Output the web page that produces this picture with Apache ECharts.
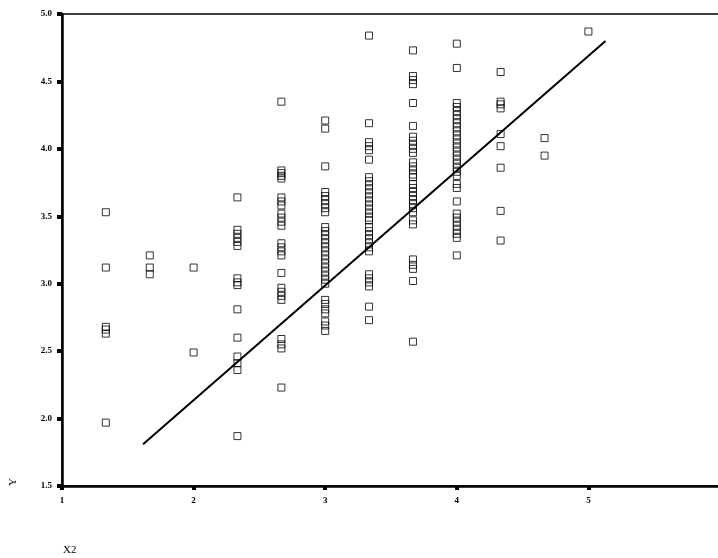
<!DOCTYPE html>
<html>
<head>
<meta charset="utf-8">
<script src="https://cdn.jsdelivr.net/npm/echarts@6/dist/echarts.min.js"></script>
<style>html,body{margin:0;padding:0;background:#fff;}#c{width:718px;height:558px;}</style>
</head>
<body>
<div id="c"></div>
<script>
// X2 values of the columns
var xCols = [1.333, 1.667, 2.0, 2.333, 2.667, 3.0, 3.333, 3.667, 4.0, 4.333, 4.667, 5.0];
// Y values per column
var c133 = [3.53, 3.12, 2.68, 2.66, 2.63, 1.97];
var c167 = [3.21, 3.12, 3.07];
var c200 = [3.12, 2.49];
var c233 = [3.64, 3.40, 3.37, 3.34, 3.31, 3.28, 3.04, 3.01, 2.99, 2.81, 2.60, 2.46, 2.41, 2.36, 1.87];
var c267 = [4.35, 3.84, 3.82, 3.80, 3.78, 3.64, 3.61, 3.58, 3.52, 3.49, 3.46, 3.43, 3.30, 3.27, 3.24, 3.21, 3.08, 2.97, 2.94, 2.91, 2.88, 2.59, 2.55, 2.52, 2.23];
var c300 = [4.21, 4.15, 3.87, 3.68, 3.65, 3.62, 3.59, 3.56, 3.53, 3.42, 3.39, 3.36, 3.33, 3.30, 3.27, 3.24, 3.21, 3.18, 3.15, 3.12, 3.09, 3.06, 3.03, 3.00, 2.88, 2.85, 2.81, 2.78, 2.72, 2.69, 2.65];
var c333 = [4.84, 4.19, 4.05, 4.02, 3.99, 3.92, 3.79, 3.76, 3.73, 3.70, 3.67, 3.64, 3.61, 3.58, 3.55, 3.52, 3.49, 3.47, 3.42, 3.39, 3.36, 3.33, 3.30, 3.27, 3.24, 3.07, 3.04, 3.01, 2.98, 2.83, 2.73];
var c367 = [4.73, 4.54, 4.51, 4.48, 4.34, 4.17, 4.09, 4.06, 4.03, 4.00, 3.97, 3.90, 3.87, 3.84, 3.81, 3.79, 3.74, 3.71, 3.68, 3.65, 3.62, 3.59, 3.56, 3.53, 3.47, 3.44, 3.18, 3.14, 3.11, 3.02, 2.57];
var c400 = [4.78, 4.60, 4.34, 4.31, 4.28, 4.25, 4.22, 4.19, 4.16, 4.13, 4.10, 4.07, 4.04, 4.01, 3.98, 3.95, 3.92, 3.89, 3.86, 3.83, 3.80, 3.74, 3.71, 3.61, 3.52, 3.49, 3.46, 3.43, 3.40, 3.37, 3.34, 3.21];
var c433 = [4.57, 4.35, 4.33, 4.30, 4.11, 4.02, 3.86, 3.54, 3.32];
var c467 = [4.08, 3.95];
var c500 = [4.87];
var yCols = [c133, c167, c200, c233, c267, c300, c333, c367, c400, c433, c467, c500];
// Fit line end points
var fitX = [1.616, 5.13];
var fitY = [1.81, 4.80];
// Tick labels
var yTicks = ['1.5', '2.0', '2.5', '3.0', '3.5', '4.0', '4.5', '5.0'];

var pts = [];
xCols.forEach(function (x, i) { yCols[i].forEach(function (y) { pts.push([x, y]); }); });
var fit = fitX.map(function (x, i) { return [x, fitY[i]]; });

var font = 'Liberation Serif';
var chart = echarts.init(document.getElementById('c'), null, {renderer: 'canvas'});
chart.setOption({
  animation: false,
  backgroundColor: '#fff',
  grid: {left: 62, top: 14, right: -2, bottom: 72, containLabel: false, outerBoundsMode: 'none',
    show: true, borderColor: '#000', borderWidth: 1.5, backgroundColor: 'transparent'},
  xAxis: {
    type: 'value', min: 1, max: 6, interval: 1,
    splitLine: {show: false},
    axisLine: {show: true, onZero: false, lineStyle: {color: '#000', width: 2.5}},
    axisTick: {show: true, inside: false, length: 4, lineStyle: {color: '#000', width: 4}},
    axisLabel: {color: '#000', fontFamily: font, fontWeight: 'bold', fontSize: 9, margin: 10}
  },
  yAxis: {
    type: 'value', min: 1.5, max: 5.0, interval: 0.5,
    splitLine: {show: false},
    axisLine: {show: true, onZero: false, lineStyle: {color: '#000', width: 2.5}},
    axisTick: {show: true, inside: false, length: 5, lineStyle: {color: '#000', width: 4}},
    axisLabel: {color: '#000', fontFamily: font, fontWeight: 'bold', fontSize: 9, margin: 10,
      formatter: function (v) { return yTicks[Math.round((v - 1.5) / 0.5)]; }}
  },
  graphic: [
    {type: 'group', x: 13, y: 482, rotation: Math.PI / 2, children: [
      {type: 'text', x: 0, y: 0,
        style: {text: 'Y', fill: '#000', font: '11px "Liberation Serif"', align: 'center', verticalAlign: 'middle'}}
    ]},
    {type: 'text', x: 63, y: 550,
      style: {text: 'X2', fill: '#000', font: '11px "Liberation Serif"', align: 'left', verticalAlign: 'middle'}}
  ],
  series: [
    {type: 'scatter', data: pts, symbol: 'rect', symbolSize: 7,
      itemStyle: {color: 'rgba(255,255,255,0)', borderColor: '#000', borderWidth: 1}, z: 3},
    {type: 'line', data: fit, symbol: 'none', lineStyle: {color: '#000', width: 2}, z: 4}
  ]
});
</script>
</body>
</html>
